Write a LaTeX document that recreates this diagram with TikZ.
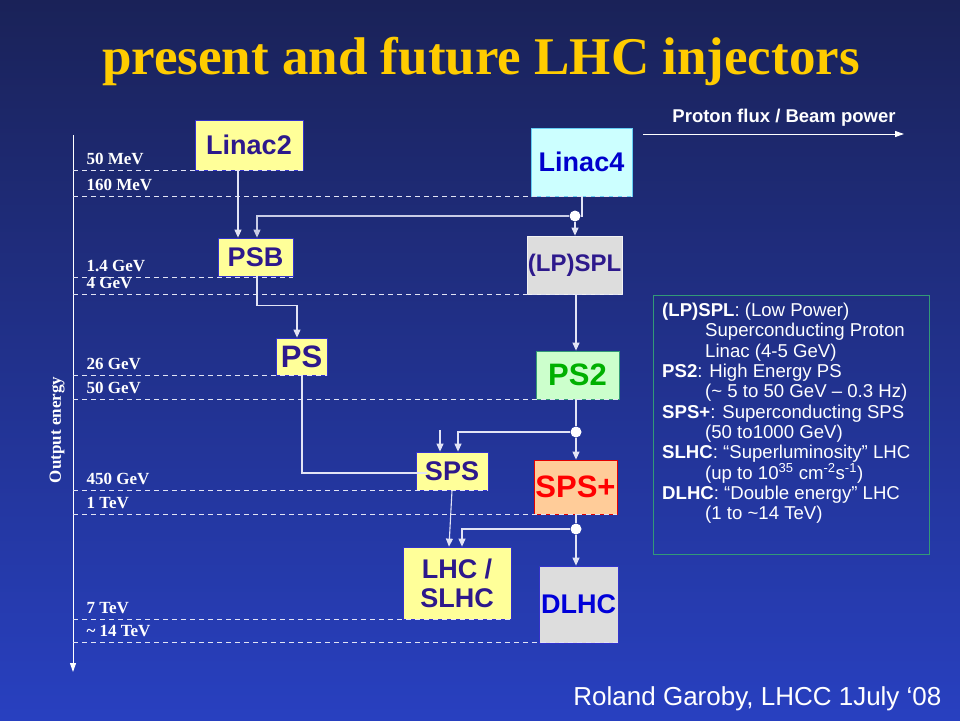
\documentclass[tikz,border=0pt]{standalone}
\usepackage{fontspec}
\setmainfont{Liberation Serif}
\setsansfont{Liberation Sans}
\usetikzlibrary{arrows.meta}

\definecolor{bgtop}{RGB}{26,34,88}
\definecolor{bgbottom}{RGB}{40,64,192}
\definecolor{gold}{RGB}{255,204,0}
\definecolor{paleyellow}{RGB}{255,255,153}
\definecolor{indigo}{RGB}{45,25,140}
\definecolor{boxblue}{RGB}{51,51,204}
\definecolor{palecyan}{RGB}{204,255,255}
\definecolor{palegray}{RGB}{221,221,221}
\definecolor{palegreen}{RGB}{204,255,204}
\definecolor{darkgreen}{RGB}{0,176,0}
\definecolor{peach}{RGB}{255,204,153}
\definecolor{linecol}{RGB}{226,228,245}
\definecolor{branchcol}{RGB}{200,204,230}
\definecolor{legendgreen}{RGB}{51,153,119}

\tikzset{
  box/.style={draw=boxblue, line width=0.8pt, inner sep=0pt, fill=paleyellow, text=indigo,
    font=\sffamily\bfseries\fontsize{27}{29}\selectfont},
  bigbox/.style={box, font=\sffamily\bfseries\fontsize{31}{33}\selectfont},
  elabel/.style={anchor=base west, text=white, font=\bfseries\fontsize{17}{19}\selectfont},
  eline/.style={draw=linecol, line width=0.9pt, dashed, dash pattern=on 5pt off 4pt},
  wire/.style={draw=linecol, line width=1.1pt},
  feed/.style={wire, -{Triangle[width=7pt,length=8pt]}},
  junction/.style={circle, fill=white, inner sep=0pt, minimum size=11pt},
  axis/.style={draw=white, line width=1pt, -{Triangle[width=6pt,length=9pt]}},
}

\begin{document}
\begin{tikzpicture}[x=1pt, y=-1pt]
  \useasboundingbox (0,0) rectangle (960,720);
  \shade[top color=bgtop, bottom color=bgbottom] (0,0) rectangle (960,720);

  % title
  \node[anchor=base, text=gold, font=\bfseries\fontsize{53}{56}\selectfont] (title) at (481,74) {present and future LHC injectors};

  % machines
  \node[box, minimum width=108pt, minimum height=50pt] (linac2) at (249,145) {Linac2};
  \node[box, fill=palecyan, draw=cyan!60!white, text=blue!80!black, minimum width=101pt, minimum height=68pt] (linac4) at (581.5,162) {Linac4};
  \node[box, minimum width=75pt, minimum height=38pt] (psb) at (255.5,257) {PSB};
  \node[box, fill=palegray, draw=white!90!gray, minimum width=95pt, minimum height=58pt, font=\sffamily\bfseries\fontsize{24}{26}\selectfont] (lpspl) at (574.5,265) {(LP)SPL};
  \node[bigbox, minimum width=51pt, minimum height=37pt] (ps) at (301.5,356.5) {PS};
  \node[bigbox, fill=palegreen, draw=legendgreen, text=darkgreen, minimum width=83pt, minimum height=48pt] (ps2) at (577.5,375) {PS2};
  \node[box, minimum width=72pt, minimum height=38pt] (sps) at (452,471) {SPS};
  \node[bigbox, fill=peach, draw=red!90!black, text=red, minimum width=83pt, minimum height=54pt] (spsp) at (575.5,487) {SPS+};
  \node[box, minimum width=108pt, minimum height=72pt, align=center] (lhc) at (457,583) {LHC /\\SLHC};
  \node[box, fill=palegray, draw=boxblue, text=blue!85!black, minimum width=79pt, minimum height=77pt] (dlhc) at (578.5,604.5) {DLHC};

  % energy axis
  \coordinate (axtop) at (73,135);
  \coordinate (axbot) at (73,672);
  \draw[axis] (axtop) -- (axbot);
  \node[rotate=90, text=white, font=\bfseries\fontsize{17}{19}\selectfont] (axlabel) at (57,430) {Output energy};

  \foreach \txt/\y/\nd in {50 MeV/170/linac2, 160 MeV/196/linac4, 1.4 GeV/277/psb, 4 GeV/294/lpspl,
      26 GeV/375/ps, 50 GeV/399/ps2, 450 GeV/490/sps, 1 TeV/514/spsp, 7 TeV/619/lhc,
      \textasciitilde\ 14 TeV/642/dlhc}{
    \draw[eline] (73,\y) -- (\nd.east |- 73,\y);
    \node[elabel] (lab-\nd) at (83,\y-6) {\txt};
  }

  % junctions
  \node[junction] (j1) at (575,216) {};
  \node[junction] (j2) at (576,432) {};
  \node[junction] (j3) at (576,529) {};

  % beam lines
  \draw[feed] (linac2.south -| 238,0) -- (psb.north -| 238,0);
  \draw[wire] (linac4.south -| 582,0) |- (j1);
  \draw[feed] (j1) -- (lpspl.north -| 575,0);
  \draw[feed, draw=branchcol] (j1) -| (psb.north -| 257,0);
  \draw[feed] (psb.south -| 257,0) -- ++(0,29) -| (ps.north -| 297,0);
  \draw[feed] (lpspl.south -| 576,0) -- (ps2.north -| 576,0);
  \draw[wire] (ps2.south -| 576,0) -- (j2);
  \draw[feed] (j2) -- (spsp.north -| 576,0);
  \draw[feed] (j2) -| (sps.north -| 458,0);
  \coordinate (spsin) at (440,430);
  \draw[feed] (spsin) -- (sps.north -| 440,0);
  \draw[wire] (ps.south -| 302,0) |- ([shift={(11,2)}]sps.west);
  \draw[feed] (sps.south -| 452,0) -- (lhc.north -| 449,0);
  \draw[wire] (spsp.south -| 576,0) -- (j3);
  \draw[feed] (j3) -- (dlhc.north -| 576,0);
  \draw[feed] (j3) -| (lhc.north -| 462,0);

  % flux arrow
  \node[text=white, font=\sffamily\bfseries\fontsize{18.5}{20}\selectfont] (flux) at (784,118) {Proton flux / Beam power};
  \coordinate (fluxa) at (643,134);
  \coordinate (fluxb) at (904,134);
  \draw[axis] (fluxa) -- (fluxb);

  % legend
  \node[draw=legendgreen, line width=1.2pt, minimum width=276pt, minimum height=259pt, anchor=north west] (legend) at (653,295) {};
  \node[anchor=north west, inner sep=0pt, align=left, text=white, font=\sffamily\fontsize{18.6}{20.3}\selectfont] (legendtxt) at (662,303) {%
    \textbf{(LP)SPL}: (Low Power)\\
    \hspace*{43pt}Superconducting Proton\\
    \hspace*{43pt}Linac (4-5 GeV)\\
    \textbf{PS2}: High Energy PS\\
    \hspace*{43pt}(\textasciitilde\ 5 to 50 GeV – 0.3 Hz)\\
    \textbf{SPS+}: Superconducting SPS\\
    \hspace*{43pt}(50 to1000 GeV)\\
    \textbf{SLHC}: “Superluminosity” LHC\\
    \hspace*{43pt}(up to 10\textsuperscript{35} cm\textsuperscript{-2}s\textsuperscript{-1})\\
    \textbf{DLHC}: “Double energy” LHC\\
    \hspace*{43pt}(1 to \textasciitilde14 TeV)};

  % author
  \node[anchor=base east, text=white, font=\sffamily\fontsize{26}{28}\selectfont] (author) at (945,705) {Roland Garoby, LHCC 1July ‘08};
\end{tikzpicture}
\end{document}
